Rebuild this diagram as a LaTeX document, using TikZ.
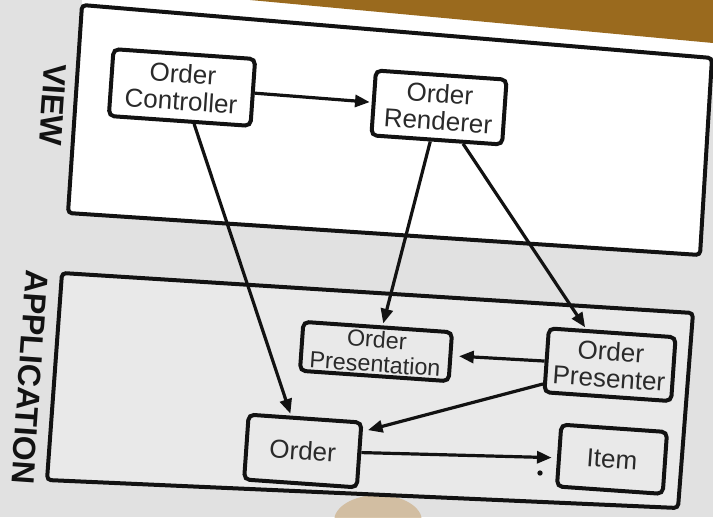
\documentclass[tikz,border=0pt]{standalone}
\usepackage{fontspec}
\setmainfont{Liberation Sans}
\usetikzlibrary{arrows.meta}

\definecolor{inkline}{HTML}{121212}
\definecolor{inktext}{HTML}{2A2A2A}
\definecolor{paper}{HTML}{E1E1E1}
\definecolor{appgray}{HTML}{EBEBEB}
\definecolor{desk}{HTML}{9A6A1E}
\definecolor{skin}{HTML}{CDB38E}

\tikzset{every picture/.style={line width=0.75pt}}
\tikzset{
  layer/.style={draw=inkline, line width=3pt, rounded corners=3pt},
  layerlabel/.style={rotate=-94, inner sep=0pt, text=inkline, font=\fontsize{24}{26}\selectfont\bfseries},
  classbox/.style={draw=inkline, line width=3pt, rounded corners=4pt, rotate=-4, inner sep=0pt,
    align=center, text=inktext, font=\fontsize{19.5}{20.5}\selectfont},
  assoc/.style={draw=inkline, line width=2.4pt, shorten >=1.5pt, -{Triangle[length=11pt,width=9pt]}},
  multdot/.style={circle, fill=inkline, inner sep=0pt, minimum size=4pt},
}

\begin{document}
\begin{tikzpicture}[x=0.75pt,y=0.75pt,yscale=-1,xscale=1]
\useasboundingbox (0,0) rectangle (713,517);

%Background (screen, desk edge, finger)
\fill [paper] (0,0) rectangle (713,517);
\fill [white] (230,0) -- (713,0) -- (713,60) -- (82,5) -- (82,0) -- cycle;
\fill [desk] (250,0) -- (713,0) -- (713,43) -- cycle;
\fill [skin, opacity=0.75] (378,521) ellipse (44 and 26);

%Shape: VIEW layer
\draw [layer, fill=white] (82,5) -- (712,58) -- (700,255) -- (68,213) -- cycle;
%Shape: APPLICATION layer
\draw [layer, fill=appgray, fill opacity=0.85] (62,273) -- (693,313) -- (678,508) -- (47,480) -- cycle;

% Text Node
\draw (53,105) node [layerlabel] (viewlbl) {VIEW};
% Text Node
\draw (30,377) node [layerlabel] (applbl) {APPLICATION};

%Rounded Rect
\draw (182,87.5) node [classbox, minimum width=106.5pt, minimum height=50.25pt] (ctrl) {Order\\Controller};
%Rounded Rect
\draw (439,107.5) node [classbox, minimum width=98.25pt, minimum height=48.75pt] (rend) {Order\\Renderer};
%Rounded Rect
\draw (376,351.5) node [classbox, minimum width=111.75pt, minimum height=36.75pt,
  font=\fontsize{17.5}{18.5}\selectfont] (pres) {Order\\Presentation};
%Rounded Rect
\draw (610,364.75) node [classbox, minimum width=95.25pt, minimum height=48pt] (prstr) {Order\\Presenter};
%Rounded Rect
\draw (302.75,451) node [classbox, minimum width=84.75pt, minimum height=48.75pt] (order) {Order};
%Rounded Rect
\draw (612,459.25) node [classbox, minimum width=79.5pt, minimum height=46.5pt] (item) {Item};
% multiplicity mark
\draw (540,473) node [multdot] (mult) {};

%Straight Lines
\draw [assoc] (ctrl) -- (rend);
\draw [assoc] (ctrl) -- (order);
\draw [assoc] (rend) -- (pres);
\draw [assoc] (rend) -- (prstr);
\draw [assoc, shorten >=5pt] (prstr) -- (pres);
\draw [assoc, shorten >=4pt] (prstr.200) -- (order.22);
\draw [assoc, shorten >=4pt] (order) -- (item);
\end{tikzpicture}
\end{document}
